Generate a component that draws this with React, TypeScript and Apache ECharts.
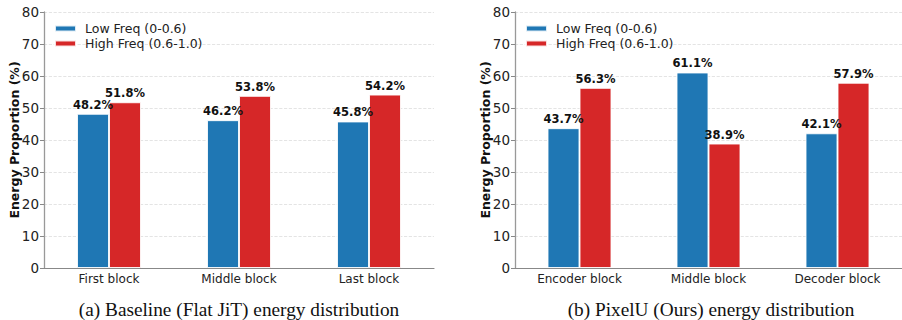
import React, { useEffect, useRef } from "react";
import * as echarts from "echarts";

const leftCategories = ["First block", "Middle block", "Last block"];
const leftLow = [48.2, 46.2, 45.8];
const leftHigh = [51.8, 53.8, 54.2];

const rightCategories = ["Encoder block", "Middle block", "Decoder block"];
const rightLow = [43.7, 61.1, 42.1];
const rightHigh = [56.3, 38.9, 57.9];

const lowName = "Low Freq (0-0.6)";
const highName = "High Freq (0.6-1.0)";
const yAxisTitle = "Energy Proportion (%)";
const captionA = "(a) Baseline (Flat JiT) energy distribution";
const captionB = "(b) PixelU (Ours) energy distribution";

const BLUE = "#1f77b4";
const RED = "#d62728";
const FONT = "DejaVu Sans";

export default function App() {
  const ref = useRef<HTMLDivElement>(null);
  useEffect(() => {
    document.body.style.margin = "0";
    if (!ref.current) return;
    const chart = echarts.init(ref.current, undefined, { renderer: "svg" });
    const grids = [
      { left: 44, top: 12, width: 390, height: 256 },
      { left: 515, top: 12, width: 390, height: 256 },
    ];
    const xAxis = [leftCategories, rightCategories].map((cats, i) => ({
      type: "category",
      gridIndex: i,
      data: cats,
      axisLine: { lineStyle: { color: "#888", width: 1.2 } },
      axisTick: { alignWithLabel: true, length: 4, lineStyle: { color: "#888" } },
      axisLabel: { color: "#222", fontFamily: FONT, fontSize: 12, margin: 5 },
    }));
    const yAxis = [0, 1].map((i) => ({
      type: "value",
      gridIndex: i,
      min: 0,
      max: 80,
      interval: 10,
      name: yAxisTitle,
      nameLocation: "middle",
      nameGap: 23,
      nameMoveOverlap: false,
      nameTextStyle: { fontFamily: FONT, fontSize: 12.5, fontWeight: "bold", color: "#111" },
      axisLine: { show: true, lineStyle: { color: "#999", width: 1.3 } },
      axisTick: { show: true, length: 4, lineStyle: { color: "#888" } },
      axisLabel: { color: "#222", fontFamily: FONT, fontSize: 13.5, margin: 5 },
      splitLine: { show: true, lineStyle: { color: "#ddd", type: "dashed", width: 0.8 } },
    }));
    const mkSeries = (name: string, data: number[], color: string, idx: number) => ({
      type: "bar",
      name,
      xAxisIndex: idx,
      yAxisIndex: idx,
      data,
      barWidth: 32,
      barGap: "0%",
      itemStyle: { color, borderColor: "rgba(255,255,255,0.85)", borderWidth: 1 },
      label: {
        show: true,
        position: "top",
        distance: 3,
        formatter: (p: any) => `${Number(p.value).toFixed(1)}%`,
        fontFamily: FONT,
        fontSize: 11.5,
        fontWeight: "bold",
        color: "#111",
      },
    });
    const legendCommon = {
      orient: "vertical",
      icon: "rect",
      itemWidth: 21,
      itemHeight: 6,
      itemGap: 2,
      padding: 0,
      data: [lowName, highName],
      textStyle: {
        fontFamily: FONT,
        fontSize: 12.5,
        lineHeight: 13,
        color: "#222",
        padding: [0, 0, 0, 4],
      },
      selectedMode: false,
    };
    chart.setOption({
      animation: false,
      grid: grids,
      xAxis,
      yAxis,
      legend: [
        { ...legendCommon, left: 54, top: 22 },
        { ...legendCommon, left: 525, top: 22 },
      ],
      series: [
        mkSeries(lowName, leftLow, BLUE, 0),
        mkSeries(highName, leftHigh, RED, 0),
        mkSeries(lowName, rightLow, BLUE, 1),
        mkSeries(highName, rightHigh, RED, 1),
      ],
      graphic: [
        {
          type: "text",
          x: 239,
          y: 309.5,
          style: {
            text: captionA,
            fontFamily: "Liberation Serif",
            fontSize: 19.3,
            fill: "#111",
            textAlign: "center",
            textVerticalAlign: "middle",
          },
        },
        {
          type: "text",
          x: 711,
          y: 309.5,
          style: {
            text: captionB,
            fontFamily: "Liberation Serif",
            fontSize: 19.3,
            fill: "#111",
            textAlign: "center",
            textVerticalAlign: "middle",
          },
        },
      ],
    });
    return () => chart.dispose();
  }, []);
  return <div ref={ref} style={{ width: 902, height: 320 }} />;
}
